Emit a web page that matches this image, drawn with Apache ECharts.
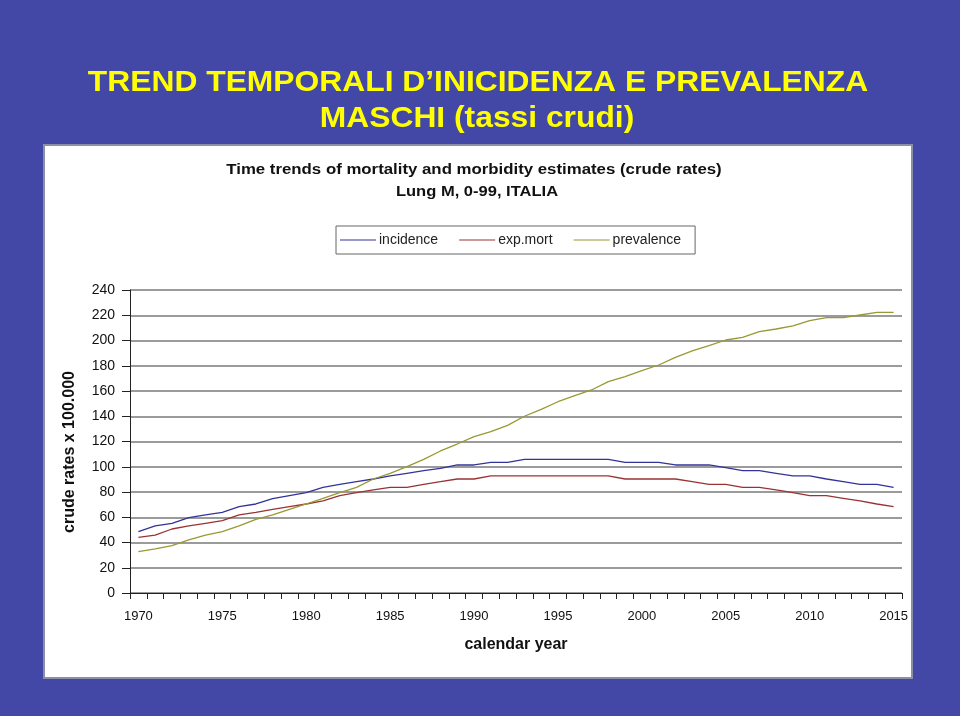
<!DOCTYPE html>
<html>
<head>
<meta charset="utf-8">
<script src="https://cdn.jsdelivr.net/npm/echarts@6/dist/echarts.min.js"></script>
<style>
html,body{margin:0;padding:0;background:#4347A6;}
#chart{width:960px;height:716px;}
</style>
</head>
<body>
<div id="chart"></div>
<script>
// ---- data ----
const years = ["1970","1971","1972","1973","1974","1975","1976","1977","1978","1979",
  "1980","1981","1982","1983","1984","1985","1986","1987","1988","1989",
  "1990","1991","1992","1993","1994","1995","1996","1997","1998","1999",
  "2000","2001","2002","2003","2004","2005","2006","2007","2008","2009",
  "2010","2011","2012","2013","2014","2015"];

const incidence = [48.6,53.1,55.2,59.7,61.8,63.9,68.4,70.5,74.7,77.1,
  79.5,83.7,86.1,88.2,90.3,92.7,94.8,96.9,98.7,101.4,
  101.4,103.5,103.5,105.9,105.9,105.9,105.9,105.9,105.9,103.5,
  103.5,103.5,101.4,101.4,101.4,99.3,96.9,96.9,94.8,92.7,
  92.7,90.3,88.2,86.1,86.1,83.7];

const expMort = [44.1,45.9,50.7,53.1,55.2,57.3,61.8,63.9,66.3,68.4,
  70.5,72.9,77.1,79.5,81.6,83.7,83.7,86.1,88.2,90.3,
  90.3,92.7,92.7,92.7,92.7,92.7,92.7,92.7,92.7,90.3,
  90.3,90.3,90.3,88.2,86.1,86.1,83.7,83.7,81.6,79.5,
  77.1,77.1,75.0,72.9,70.5,68.4];

const prevalence = [32.7,34.9,37.5,42.0,45.9,48.6,53.1,58.3,61.8,66.3,
  70.5,75.0,79.5,83.7,90.3,94.8,100.1,105.9,112.5,118.0,
  123.8,127.8,132.8,140.0,145.5,151.5,156.3,160.8,167.4,171.4,
  176.1,180.6,186.7,191.7,195.9,200.4,202.5,207.0,209.1,211.5,
  215.7,218.1,218.1,220.2,222.3,222.3];

const seriesNames = ["incidence","exp.mort","prevalence"];
const slideTitle = ["TREND TEMPORALI D\u2019INICIDENZA E PREVALENZA","MASCHI (tassi crudi)"];
const chartTitle = ["Time trends of mortality and morbidity estimates (crude rates)","Lung M, 0-99, ITALIA"];
const yAxisName = "crude rates x 100.000";
const xAxisName = "calendar year";

// ---- chart ----
const chart = echarts.init(document.getElementById('chart'), null, {renderer:'canvas'});
const FONT = '"Liberation Sans", Arial, sans-serif';

chart.setOption({
  backgroundColor: '#4347A6',
  animation: false,
  graphic: [
    {type:'rect', z:-10, shape:{x:44,y:145,width:868,height:533},
      style:{fill:'#ffffff', stroke:'#8C8FA8', lineWidth:2}},
    {type:'text', x:478, y:83, scaleX:1.06, z:10,
      style:{text:slideTitle[0], fill:'#FFFF00', font:'bold 30px '+FONT, textAlign:'center', textVerticalAlign:'middle'}},
    {type:'text', x:477, y:119, scaleX:1.06, z:10,
      style:{text:slideTitle[1], fill:'#FFFF00', font:'bold 30px '+FONT, textAlign:'center', textVerticalAlign:'middle'}},
    {type:'text', x:474, y:170, scaleX:1.2, z:10,
      style:{text:chartTitle[0], fill:'#111', font:'bold 14px '+FONT, textAlign:'center', textVerticalAlign:'middle'}},
    {type:'text', x:477, y:192, scaleX:1.18, z:10,
      style:{text:chartTitle[1], fill:'#111', font:'bold 14px '+FONT, textAlign:'center', textVerticalAlign:'middle'}},
    {type:'text', x:70, y:452, rotation:Math.PI/2, z:10,
      style:{text:yAxisName, fill:'#111', font:'bold 16px '+FONT, textAlign:'center', textVerticalAlign:'middle'}}
  ],
  legend: {
    left: 336, top: 226,
    data: seriesNames,
    icon: 'rect',
    itemWidth: 36, itemHeight: 1, itemGap: 21,
    borderColor: '#666', borderWidth: 1,
    padding: [7, 14, 7, 4],
    textStyle: {fontFamily: FONT, fontSize: 14, color: '#222', padding:[0,0,0,-2]}
  },
  grid: {left:130, right:58, top:290, bottom:123, containLabel:false},
  xAxis: {
    type: 'category',
    data: years,
    boundaryGap: true,
    name: xAxisName,
    nameLocation: 'middle',
    nameGap: 44,
    nameTextStyle: {fontFamily: FONT, fontSize: 16, fontWeight: 'bold', color: '#111'},
    axisLine: {lineStyle: {color: '#222', width: 1}},
    axisTick: {show: true, interval: 0, length: 6, lineStyle: {color:'#222'}},
    axisLabel: {interval: 4, margin: 17, fontFamily: FONT, fontSize: 13, color: '#111'},
    splitLine: {show: false}
  },
  yAxis: {
    type: 'value',
    min: 0, max: 240, interval: 20,
    axisLine: {show: true, lineStyle: {color: '#222', width: 1}},
    axisTick: {show: true, length: 8, lineStyle: {color:'#222'}},
    axisLabel: {margin: 15, fontFamily: FONT, fontSize: 14, color: '#111'},
    splitLine: {show: true, lineStyle: {color: '#7A7A7A', width: 1.5}}
  },
  series: [
    {name: seriesNames[0], type:'line', data: incidence, symbol:'none', smooth:false,
      lineStyle:{color:'#333399', width:1.3}, itemStyle:{color:'#333399'}},
    {name: seriesNames[1], type:'line', data: expMort, symbol:'none', smooth:false,
      lineStyle:{color:'#993333', width:1.3}, itemStyle:{color:'#993333'}},
    {name: seriesNames[2], type:'line', data: prevalence, symbol:'none', smooth:false,
      lineStyle:{color:'#999933', width:1.3}, itemStyle:{color:'#999933'}}
  ]
});
</script>
</body>
</html>
